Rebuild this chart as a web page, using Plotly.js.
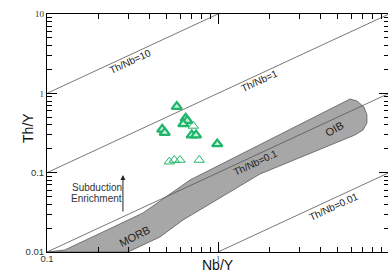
<!DOCTYPE html>
<html>
<head>
<meta charset="utf-8">
<script src="https://cdn.plot.ly/plotly-3.0.1.min.js"></script>
<style>
html,body{margin:0;padding:0;overflow:hidden;background:#fff;}
#chart{width:389px;height:278px;}
</style>
</head>
<body>
<div id="chart"></div>
<script>
// Samples (Nb/Y, Th/Y)
const filledX = [0.574, 0.647, 0.661, 0.627, 0.472, 0.488, 0.702, 0.744, 0.99];
const filledY = [0.679, 0.484, 0.452, 0.411, 0.352, 0.319, 0.298, 0.298, 0.23];
const openX = [0.717, 0.519, 0.555, 0.600, 0.777];
const openY = [0.388, 0.1375, 0.1444, 0.1444, 0.1444];

// MORB-OIB array outline
const bandX = [0.1, 0.103, 0.127, 0.364, 0.686, 5.92, 6.50, 7.14, 7.43, 7.43, 7.05, 6.32, 1.76, 0.624, 0.458, 0.298, 0.1];
const bandY = [0.01, 0.0101, 0.0106, 0.031, 0.0808, 0.848, 0.80, 0.673, 0.533, 0.423, 0.345, 0.2985, 0.0962, 0.0253, 0.0155, 0.01, 0.01];

// Constant Th/Nb reference lines
const thNb10X = [0.1, 1], thNb10Y = [1, 10];
const thNb1X = [0.1, 10], thNb1Y = [0.1, 10];
const thNb01X = [0.1, 10], thNb01Y = [0.01, 1];
const thNb001X = [1, 10], thNb001Y = [0.01, 0.1];

// Tick labels
const xTickVals = [0.1, 1, 10];
const xTickText = ['0.1', '<span style="font-family:Liberation Serif;font-size:7.5px">1</span>', '<span style="font-family:Liberation Serif;font-size:8px">10</span>'];
const yTickVals = [0.01, 0.1, 1, 10];
const yTickText = ['0.01', '0.1', '<span style="font-family:Liberation Serif;font-size:9px">1</span>', '<span style="font-family:Liberation Serif;font-size:9px">10</span>'];

function minorVals(lo, hi) {
  const v = [];
  for (let e = lo; e < hi; e++) for (let d = 2; d <= 9; d++) v.push(d * Math.pow(10, e));
  return v;
}

const green = '#1fb56c';
const lineStyle = {color: '#555', width: 0.8};

const traces = [
  {x: bandX, y: bandY, mode: 'lines', fill: 'toself', fillcolor: '#a7a7a7', line: {color: '#5a5a5a', width: 0.8}},
  {x: thNb10X, y: thNb10Y, mode: 'lines', line: lineStyle},
  {x: thNb1X, y: thNb1Y, mode: 'lines', line: lineStyle},
  {x: thNb01X, y: thNb01Y, mode: 'lines', line: lineStyle},
  {x: thNb001X, y: thNb001Y, mode: 'lines', line: lineStyle},
  {x: filledX, y: filledY, mode: 'markers', marker: {symbol: 'triangle-up', size: 9, color: '#c8f0da', line: {color: green, width: 2.2}}},
  {x: openX, y: openY, mode: 'markers', marker: {symbol: 'triangle-up-open', size: 9, color: green, line: {color: green, width: 1}}}
];

const font = 'Liberation Sans, Arial, sans-serif';
function lbl(text, x, y, ang, size) {
  return {text: text, x: Math.log10(x), y: Math.log10(y), xref: 'x', yref: 'y', showarrow: false,
    textangle: ang, font: {family: font, size: size || 10, color: '#222'}};
}

const axisCommon = {
  type: 'log', showgrid: false, zeroline: false, showline: true, linecolor: '#000', linewidth: 1,
  mirror: 'ticks', ticks: 'inside', ticklen: 10, tickwidth: 1, tickcolor: '#000',
  tickfont: {family: font, size: 9.5, color: '#333'}, tickmode: 'array'
};

const layout = {
  width: 389, height: 278,
  margin: {l: 47, r: 0, t: 14, b: 26},
  paper_bgcolor: '#fff', plot_bgcolor: '#fff',
  showlegend: false,
  xaxis: Object.assign({}, axisCommon, {range: [-1, 1], tickvals: xTickVals, ticktext: xTickText, ticklabelstandoff: -2,
    minor: {ticks: 'inside', ticklen: 5, tickcolor: '#000', tickwidth: 1, tickmode: 'array', tickvals: minorVals(-1, 1)}}),
  yaxis: Object.assign({}, axisCommon, {range: [-2, 1], tickvals: yTickVals, ticktext: yTickText,
    minor: {ticks: 'inside', ticklen: 5, tickcolor: '#000', tickwidth: 1, tickmode: 'array', tickvals: minorVals(-2, 1)}}),
  annotations: [
    lbl('Th/Nb=10', 0.306, 2.5, -25),
    lbl('Th/Nb=1', 1.76, 1.44, -25),
    lbl('Th/Nb=0.1', 1.667, 0.133, -25),
    lbl('Th/Nb=0.01', 4.76, 0.038, -25),
    lbl('OIB', 4.77, 0.355, -29, 11),
    lbl('MORB', 0.327, 0.0159, -27, 11),
    {text: 'Subduction', x: Math.log10(0.196), y: Math.log10(0.0641), xref: 'x', yref: 'y',
      showarrow: false, font: {family: font, size: 10, color: '#333'}},
    {text: 'Enrichment', x: Math.log10(0.196), y: Math.log10(0.0466), xref: 'x', yref: 'y',
      showarrow: false, font: {family: font, size: 10, color: '#333'}},
    {text: '', x: Math.log10(0.278), y: Math.log10(0.0935), xref: 'x', yref: 'y',
      ax: Math.log10(0.278), ay: Math.log10(0.031), axref: 'x', ayref: 'y',
      showarrow: true, arrowhead: 2, arrowsize: 1, arrowwidth: 1, arrowcolor: '#222'},
    {text: 'Nb/Y', xref: 'paper', yref: 'paper', x: 0.5, y: -0.094, showarrow: false, borderpad: 0,
      font: {family: font, size: 14, color: '#111'}},
    {text: 'Th/Y', xref: 'paper', yref: 'paper', x: -0.085, y: 0.521, showarrow: false, textangle: -90,
      font: {family: font, size: 14, color: '#111'}}
  ]
};

Plotly.newPlot('chart', traces, layout, {staticPlot: true, displayModeBar: false});
</script>
</body>
</html>
